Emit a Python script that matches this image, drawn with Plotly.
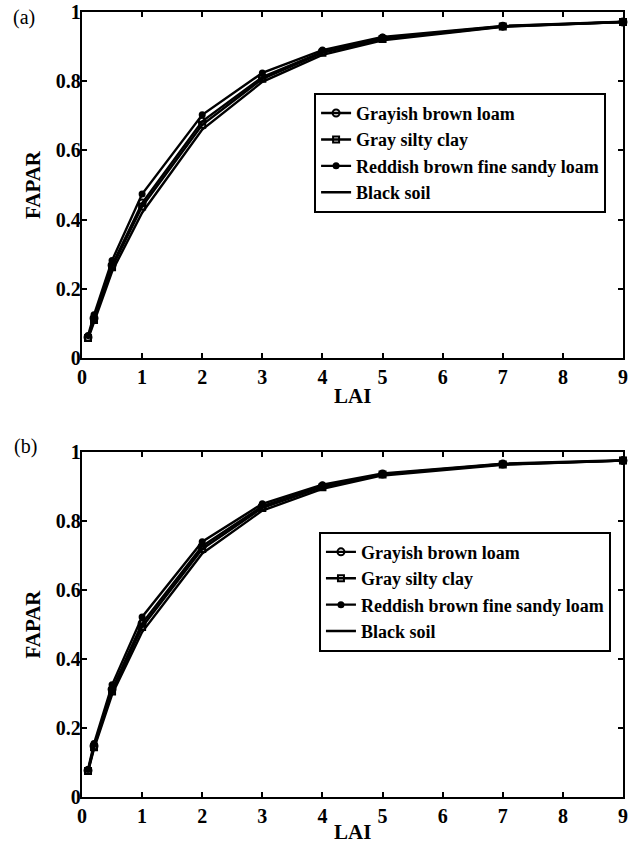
import plotly.graph_objects as go

# LAI sample points
lai = [0.1, 0.2, 0.5, 1, 2, 3, 4, 5, 7, 9]

# Panel (a) FAPAR per soil background
a_grayish_brown = [0.060, 0.115, 0.268, 0.448, 0.684, 0.812, 0.885, 0.924, 0.959, 0.971]
a_gray_silty = [0.058, 0.110, 0.262, 0.438, 0.674, 0.807, 0.882, 0.922, 0.958, 0.971]
a_reddish_brown = [0.065, 0.125, 0.282, 0.474, 0.703, 0.824, 0.890, 0.928, 0.960, 0.972]
a_black = [0.055, 0.104, 0.250, 0.420, 0.660, 0.798, 0.876, 0.918, 0.957, 0.971]

# Panel (b) FAPAR per soil background
b_grayish_brown = [0.077, 0.148, 0.312, 0.503, 0.727, 0.843, 0.901, 0.936, 0.965, 0.975]
b_gray_silty = [0.075, 0.144, 0.306, 0.493, 0.719, 0.838, 0.898, 0.935, 0.964, 0.975]
b_reddish_brown = [0.080, 0.155, 0.325, 0.522, 0.740, 0.850, 0.905, 0.938, 0.966, 0.976]
b_black = [0.073, 0.140, 0.297, 0.478, 0.706, 0.830, 0.893, 0.932, 0.963, 0.975]

series_names = ["Grayish brown loam", "Gray silty clay",
                "Reddish brown fine sandy loam", "Black soil"]
x_ticks = [0, 1, 2, 3, 4, 5, 6, 7, 8, 9]
y_ticks = [0, 0.2, 0.4, 0.6, 0.8, 1]
y_tick_text = ["0", "0.2", "0.4", "0.6", "0.8", "1"]

SERIF = "Liberation Serif"
marker_styles = [
    dict(symbol="circle-open", size=7, color="black", line=dict(width=2, color="black")),
    dict(symbol="square-open", size=6, color="black", line=dict(width=2, color="black")),
    dict(symbol="circle", size=7, color="black"),
    None,
]

fig = go.Figure()

panels = [
    ("x", "y", "legend", [a_grayish_brown, a_gray_silty, a_reddish_brown, a_black]),
    ("x2", "y2", "legend2", [b_grayish_brown, b_gray_silty, b_reddish_brown, b_black]),
]
for xa, ya, leg, ys in panels:
    for name, vals, ms in zip(series_names, ys, marker_styles):
        kw = dict(mode="lines+markers", marker=ms) if ms else dict(mode="lines")
        fig.add_trace(go.Scatter(
            x=lai, y=vals, name=name, xaxis=xa, yaxis=ya, legend=leg,
            line=dict(color="black", width=2.4), cliponaxis=False, **kw))

tick_font = dict(family=SERIF, size=20, color="black", weight="bold")
axis_common = dict(
    showline=True, linecolor="black", linewidth=2.4, mirror="ticks",
    ticks="inside", ticklen=5, tickwidth=2, tickcolor="black",
    showgrid=False, zeroline=False, tickfont=tick_font, automargin=False,
)
xa = dict(range=[0, 9], tickvals=x_ticks, **axis_common)
ya = dict(range=[0, 1], tickvals=y_ticks, ticktext=y_tick_text, ticklabelstandoff=-5, **axis_common)

legend_common = dict(
    font=dict(family=SERIF, size=18, color="black", weight="bold"),
    bordercolor="black", borderwidth=2, bgcolor="white",
    xanchor="left", yanchor="top", tracegroupgap=0, itemwidth=30,
)

fig.update_layout(
    width=637, height=844,
    margin=dict(l=82, r=14, t=12, b=47, autoexpand=False),
    paper_bgcolor="white", plot_bgcolor="white",
    xaxis=dict(domain=[0, 1], anchor="y", **xa),
    yaxis=dict(domain=[0.5592, 1], anchor="x", **ya),
    xaxis2=dict(domain=[0, 1], anchor="y2", **xa),
    yaxis2=dict(domain=[0, 0.4395], anchor="x2", **ya),
    legend=dict(x=0.429, y=0.897, **legend_common),
    legend2=dict(x=0.438, y=0.338, **legend_common),
    showlegend=True,
)

title_font = dict(family=SERIF, size=21, color="black", weight="bold")
label_font = dict(family=SERIF, size=20, color="black")
annotations = [
    dict(text="LAI", x=0.5, y=0.5592, yshift=-24, xref="paper", yref="paper",
         xanchor="center", yanchor="top", showarrow=False, font=title_font),
    dict(text="LAI", x=0.5, y=0.0, yshift=-21, xref="paper", yref="paper",
         xanchor="center", yanchor="top", showarrow=False, font=title_font),
    dict(text="FAPAR", x=0, xshift=-49, y=(0.5592 + 1) / 2, xref="paper", yref="paper",
         textangle=-90, xanchor="center", yanchor="middle", showarrow=False, font=title_font),
    dict(text="FAPAR", x=0, xshift=-49, y=0.4395 / 2, xref="paper", yref="paper",
         textangle=-90, xanchor="center", yanchor="middle", showarrow=False, font=title_font),
    dict(text="(a)", x=0, xshift=-58, y=1, yshift=-5, xref="paper", yref="paper",
         xanchor="center", yanchor="middle", showarrow=False, font=label_font),
    dict(text="(b)", x=0, xshift=-57, y=0.4395, yshift=5, xref="paper", yref="paper",
         xanchor="center", yanchor="middle", showarrow=False, font=label_font),
]
fig.update_layout(annotations=annotations)

fig.write_html("out.html")
